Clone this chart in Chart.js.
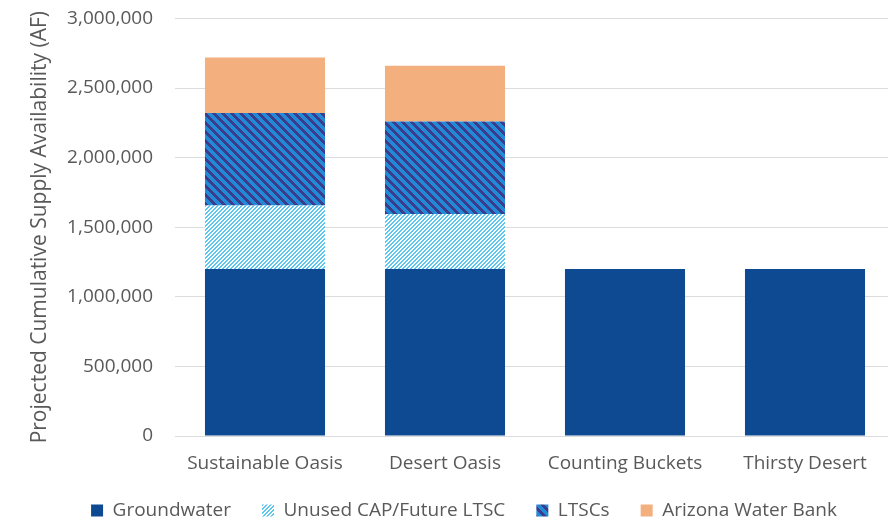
<!DOCTYPE html>
<html><head><meta charset="utf-8">
<script src="https://cdn.jsdelivr.net/npm/chart.js@4/dist/chart.umd.min.js"></script>
<style>
html,body{margin:0;padding:0;background:#fff;overflow:hidden}
#wrap{width:888px;height:523px;overflow:hidden;position:relative;background:#fff}
#c{position:absolute;left:0;top:0}
</style></head>
<body><div id="wrap"><canvas id="c" width="900" height="523" style="width:900px;height:523px"></canvas></div>
<script>
const categories = ["Sustainable Oasis", "Desert Oasis", "Counting Buckets", "Thirsty Desert"];
const seriesNames = ["Groundwater", "Unused CAP/Future LTSC", "LTSCs", "Arizona Water Bank"];
const groundwater = [1200000, 1200000, 1200000, 1200000];
const unusedCap = [455000, 395000, 0, 0];
const ltscs = [665000, 665000, 0, 0];
const azWaterBank = [400000, 400000, 0, 0];
const yMin = 0, yMax = 3000000, yStep = 500000;
const yTitle = "Projected Cumulative Supply Availability (AF)";

function stripePattern(period, darkW, dark, light, dir) {
  const c = document.createElement('canvas');
  c.width = period; c.height = period;
  const ctx = c.getContext('2d');
  const img = ctx.createImageData(period, period);
  const hex = h => [parseInt(h.slice(1,3),16), parseInt(h.slice(3,5),16), parseInt(h.slice(5,7),16)];
  const d = hex(dark), l = hex(light);
  for (let y = 0; y < period; y++) for (let x = 0; x < period; x++) {
    const v = dir === 'back' ? ((x - y) % period + period) % period : (x + y) % period;
    const col = v < darkW ? d : l;
    const i = (y * period + x) * 4;
    img.data[i] = col[0]; img.data[i+1] = col[1]; img.data[i+2] = col[2]; img.data[i+3] = 255;
  }
  ctx.putImageData(img, 0, 0);
  return document.getElementById('c').getContext('2d').createPattern(c, 'repeat');
}

const gwColor = '#0D4A91';
const unusedPat = stripePattern(4, 2, '#FFFFFF', '#5CC6EF', 'fwd');
const ltscPat = stripePattern(9, 4, '#3B3D8C', '#2189D6', 'back');
const awbColor = '#F4AF7F';
const textColor = '#595959';
const fontFamily = "'Open Sans', sans-serif";

const legendTweak = {
  id: 'legendTweak',
  beforeLayout(chart) {
    const l = chart.legend;
    if (l && !l._wrapped) {
      const orig = l.fit.bind(l);
      l.fit = function () { orig(); this.height = 47; };
      l._wrapped = true;
    }
  },
  afterLayout(chart) {
    const l = chart.legend;
    l.left += 5; l.right += 5;
    l.top -= 6; l.bottom -= 6;
  }
};

new Chart(document.getElementById('c'), {
  type: 'bar',
  data: {
    labels: categories,
    datasets: [
      { label: seriesNames[0], data: groundwater, backgroundColor: gwColor, borderWidth: 0 },
      { label: seriesNames[1], data: unusedCap, backgroundColor: unusedPat, borderWidth: 0 },
      { label: seriesNames[2], data: ltscs, backgroundColor: ltscPat, borderWidth: 0 },
      { label: seriesNames[3], data: azWaterBank, backgroundColor: awbColor, borderWidth: 0 }
    ]
  },
  options: {
    responsive: false,
    animation: false,
    devicePixelRatio: 1,
    layout: { padding: { left: 23, right: 5, top: 0, bottom: 0 } },
    datasets: { bar: { barPercentage: 1, categoryPercentage: 0.667 } },
    plugins: {
      tooltip: { enabled: false },
      legend: {
        position: 'bottom',
        labels: {
          boxWidth: 12, boxHeight: 12, padding: 31,
          color: textColor,
          font: { family: fontFamily, size: 19 }
        }
      }
    },
    scales: {
      x: {
        stacked: true,
        afterFit(scale) { scale.height = 40; },
        grid: { display: false, drawTicks: false },
        border: { display: false },
        ticks: { color: textColor, padding: 16, font: { family: fontFamily, size: 19 } }
      },
      y: {
        stacked: true,
        min: yMin, max: yMax,
        afterFit(scale) { scale.width = 152; },
        grid: { color: '#DCDCDC', lineWidth: 1, drawTicks: true, tickLength: 15, tickColor: 'rgba(0,0,0,0)' },
        border: { display: false },
        ticks: {
          stepSize: yStep, color: textColor, padding: 7,
          font: { family: fontFamily, size: 19 },
          callback: v => v.toLocaleString('en-US')
        },
        title: { display: true, text: yTitle, color: textColor, font: { family: fontFamily, size: 21 } }
      }
    }
  },
  plugins: [legendTweak]
});
</script>
</body></html>
